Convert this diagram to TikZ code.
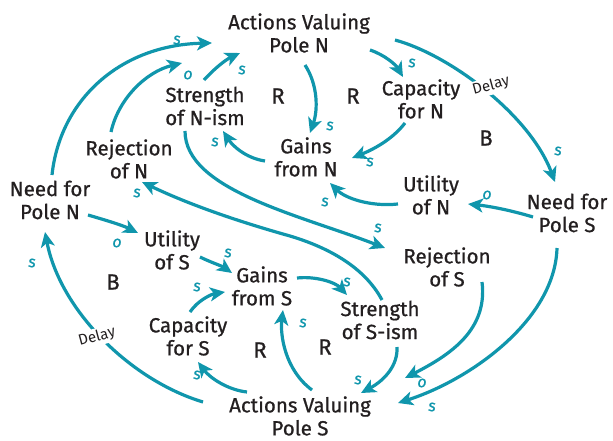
\documentclass[tikz,border=0pt]{standalone}
\usepackage{fontspec}
\setmainfont{Fira Sans}
\newfontfamily\varfont{Fira Sans}[FakeBold=0.8]
\usetikzlibrary{arrows.meta,calc}
\definecolor{teal1}{RGB}{16,150,172}
\definecolor{ink}{RGB}{35,31,32}
\begin{document}
\begin{tikzpicture}[x=1pt,y=-1pt,
  var/.style={font=\varfont\fontsize{20.5}{23}\selectfont, text=ink, align=center, inner sep=0pt},
  arr/.style={draw=teal1, line width=3.2pt, -{Stealth[length=15pt,width=14pt,inset=4pt]}},
  pol/.style={font=\varfont\fontsize{16}{16}\selectfont\itshape, text=teal1, inner sep=0pt},
  loopmark/.style={font=\varfont\fontsize{22}{22}\selectfont, text=ink, inner sep=0pt},
  dly/.style={font=\fontsize{15}{15}\selectfont, text=ink, rotate=15, fill=white, inner sep=1.5pt}]
\useasboundingbox (0,0) rectangle (613,441);

% variables
\node[var] (ActN) at (299,33) {Actions Valuing\\Pole N};
\node[var] (StrN) at (205,106) {Strength\\of N-ism};
\node[var] (CapN) at (421,99) {Capacity\\for N};
\node[var] (GainN) at (306,157) {Gains\\from N};
\node[var] (RejN) at (129,159) {Rejection\\of N};
\node[var] (UtilN) at (431,195) {Utility\\of N};
\node[var] (NeedS) at (567,213) {Need for\\Pole S};
\node[var] (NeedN) at (50,200) {Need for\\Pole N};
\node[var] (UtilS) at (172,250) {Utility\\of S};
\node[var] (GainS) at (262,286) {Gains\\from S};
\node[var] (RejS) at (447,267) {Rejection\\of S};
\node[var] (StrS) at (380,320) {Strength\\of S-ism};
\node[var] (CapS) at (188,336) {Capacity\\for S};
\node[var] (ActS) at (300,416) {Actions Valuing\\Pole S};

% loop markers
\node[loopmark] (L1) at (278,96) {R};
\node[loopmark] (L2) at (353,96) {R};
\node[loopmark] (L3) at (486,138) {B};
\node[loopmark] (L4) at (113,282) {B};
\node[loopmark] (L5) at (260,350) {R};
\node[loopmark] (L6) at (325,347) {R};

% connectors
\draw[arr] ($(NeedN)+(2,-25)$) .. controls (60,100) and (120,45) .. ($(ActN)+(-87,10)$);
\draw[arr] ($(RejN)+(-18,-27)$) .. controls (118,100) and (145,72) .. ($(ActN)+(-117,30)$);
\draw[arr] ($(StrN)+(-1,-26)$) .. controls (213,70) and (225,60) .. ($(ActN)+(-59,20)$);
\draw[arr] ($(ActN)+(6,32)$) .. controls (318,85) and (318,110) .. ($(GainN)+(4,-24)$);
\draw[arr] ($(ActN)+(71,17)$) .. controls (385,55) and (396,65) .. ($(CapN)+(-18,-22)$);
\draw[arr] ($(ActN)+(96,7)$) .. controls (450,55) and (530,115) .. ($(NeedS)+(-12,-31)$);
\draw[arr] ($(CapN)+(-16,24)$) .. controls (392,140) and (372,150) .. ($(GainN)+(46,1)$);
\draw[arr] ($(GainN)+(-41,4)$) .. controls (245,158) and (232,145) .. ($(StrN)+(18,25)$);
\draw[arr] ($(UtilN)+(-33,9)$) .. controls (370,207) and (345,198) .. ($(GainN)+(24,26)$);
\draw[arr] ($(NeedS)+(-34,4)$) .. controls (510,210) and (488,206) .. ($(UtilN)+(37,9)$);
\draw[arr] ($(StrN)+(-20,25)$) .. controls (185,190) and (300,215) .. ($(RejS)+(-62,-19)$);
\draw[arr] ($(StrS)+(2,-20)$) .. controls (365,268) and (330,248) .. (290,236) .. controls (240,222) and (190,205) .. ($(RejN)+(13,23)$);
\draw[arr] ($(NeedN)+(38,15)$) .. controls (105,220) and (122,225) .. ($(UtilS)+(-34,-17)$);
\draw[arr] ($(UtilS)+(28,7)$) .. controls (210,262) and (222,266) .. ($(GainS)+(-30,-13)$);
\draw[arr] ($(CapS)+(2,-24)$) .. controls (198,300) and (212,294) .. ($(GainS)+(-37,6)$);
\draw[arr] ($(GainS)+(35,-8)$) .. controls (315,276) and (335,282) .. ($(StrS)+(-33,-25)$);
\draw[arr] ($(ActS)+(12,-26)$) .. controls (285,370) and (280,335) .. ($(GainS)+(21,24)$);
\draw[arr] ($(ActS)+(-53,-24)$) .. controls (228,390) and (210,378) .. ($(CapS)+(10,26)$);
\draw[arr] ($(ActS)+(-97,-14)$) .. controls (130,380) and (60,310) .. ($(NeedN)+(-5,32)$);
\draw[arr] ($(StrS)+(17,27)$) .. controls (398,365) and (385,380) .. ($(ActS)+(61,-23)$);
\draw[arr] ($(RejS)+(35,15)$) .. controls (488,330) and (450,355) .. ($(ActS)+(105,-38)$);
\draw[arr] ($(NeedS)+(-10,35)$) .. controls (555,320) and (470,380) .. ($(ActS)+(98,-13)$);

% delays
\node[dly] (D1) at (491,86) {Delay};
\node[dly] (D2) at (97,337) {Delay};

% polarities
\node[pol] (p1) at (177,40) {s};
\node[pol] (p2) at (188,75) {o};
\node[pol] (p3) at (242,70) {s};
\node[pol] (p4) at (330,126) {s};
\node[pol] (p5) at (412,63) {s};
\node[pol] (p6) at (558,151) {s};
\node[pol] (p7) at (370,162) {s};
\node[pol] (p8) at (215,142) {s};
\node[pol] (p9) at (325,202) {s};
\node[pol] (p10) at (487,195) {o};
\node[pol] (p11) at (378,228) {s};
\node[pol] (p12) at (137,193) {s};
\node[pol] (p13) at (117,243) {o};
\node[pol] (p14) at (228,253) {s};
\node[pol] (p15) at (197,287) {s};
\node[pol] (p16) at (347,282) {s};
\node[pol] (p17) at (303,323) {s};
\node[pol] (p18) at (197,375) {s};
\node[pol] (p19) at (32,263) {s};
\node[pol] (p20) at (358,380) {s};
\node[pol] (p21) at (422,383) {o};
\node[pol] (p22) at (432,407) {s};
\end{tikzpicture}
\end{document}
